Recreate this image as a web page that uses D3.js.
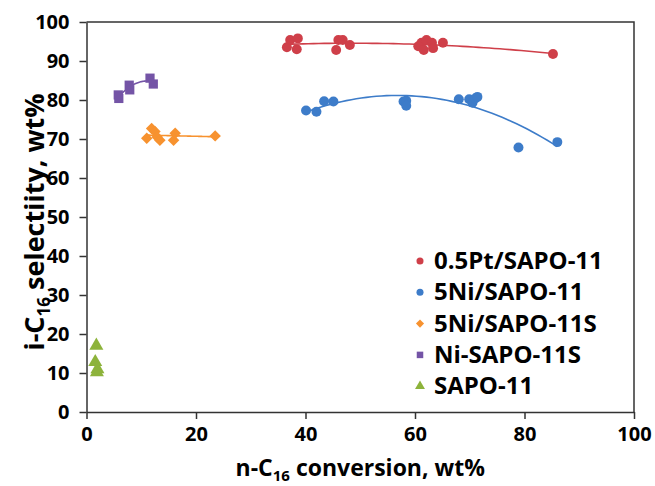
<!DOCTYPE html>
<html><head><meta charset="utf-8">
<script src="https://cdn.jsdelivr.net/npm/d3@7"></script>
<style>
body{margin:0;background:#fff;}
text{font-family:"Open Sans",sans-serif;font-weight:bold;fill:#000;}
</style></head>
<body><svg id="c" width="655" height="486"></svg>
<script>
const seriesNames = ["0.5Pt/SAPO-11","5Ni/SAPO-11","5Ni/SAPO-11S","Ni-SAPO-11S","SAPO-11"];
const colors = ["#CF3F49","#3D7CC9","#F7922F","#7454A6","#8DB33B"];
const symbols = ["circle","circle","diamond","square","triangle"];
const fitOrder = [2,2,1,2,0];

const ptX = [36.6,37.2,38.6,38.4,45.6,46.0,46.8,48.1,61.2,60.6,61.6,62.1,63.1,63.3,65.1,85.2];
const ptY = [93.5,95.4,95.8,93.0,92.8,95.4,95.4,94.1,94.7,93.8,92.8,95.4,94.7,93.3,94.7,91.8];
const niX = [40.1,42.0,43.4,45.1,57.9,58.4,58.4,68.0,69.9,70.5,71.0,71.4,78.9,86.0];
const niY = [77.3,77.0,79.7,79.6,79.6,79.8,78.5,80.2,80.2,79.3,80.4,80.8,67.8,69.2];
const niSX = [11.0,11.9,12.5,12.9,13.4,15.9,16.2,23.5];
const niSY = [70.2,72.7,71.9,70.5,69.7,69.7,71.5,70.8];
const nsX = [5.9,5.8,7.8,7.9,11.6,12.2];
const nsY = [80.4,81.3,83.8,82.6,85.6,84.1];
const sapoX = [1.8,1.6,2.0,1.9];
const sapoY = [17.0,12.8,11.0,10.2];

const xTicks = [0,20,40,60,80,100];
const yTicks = [0,10,20,30,40,50,60,70,80,90,100];

const allX = [ptX,niX,niSX,nsX,sapoX];
const allY = [ptY,niY,niSY,nsY,sapoY];

const svg = d3.select("#c");
const L=86.5, R=634, T=22, B=412;
const x = d3.scaleLinear().domain([0,100]).range([L,R]);
const y = d3.scaleLinear().domain([0,100]).range([B,T]);
const axisColor="#333";

svg.append("path").attr("d",`M${L},${T}H${R}V${B}`).attr("fill","none").attr("stroke",axisColor).attr("stroke-width",1.5);

const gx = svg.append("g").attr("transform",`translate(0,${B})`)
  .call(d3.axisBottom(x).tickValues(xTicks).tickSize(7).tickPadding(8).tickSizeOuter(0));
const gy = svg.append("g").attr("transform",`translate(${L},0)`)
  .call(d3.axisLeft(y).tickValues(yTicks).tickSize(7).tickPadding(10).tickSizeOuter(0));
[gx,gy].forEach(g=>{
  g.select(".domain").attr("stroke",axisColor).attr("stroke-width",1.5);
  g.selectAll(".tick line").attr("stroke",axisColor).attr("stroke-width",1.5);
  g.selectAll(".tick text").style("font-size","20px").style("font-family","'Open Sans',sans-serif").style("font-weight","bold").attr("fill","#111");
});

function polyfit(xs, ys, n){
  const m=n+1, A=[...Array(m)].map(()=>Array(m+1).fill(0));
  for(let k=0;k<xs.length;k++){
    for(let i=0;i<m;i++){
      for(let j=0;j<m;j++) A[i][j]+=Math.pow(xs[k],i+j);
      A[i][m]+=ys[k]*Math.pow(xs[k],i);
    }
  }
  for(let i=0;i<m;i++){
    let p=i; for(let r=i+1;r<m;r++) if(Math.abs(A[r][i])>Math.abs(A[p][i])) p=r;
    [A[i],A[p]]=[A[p],A[i]];
    for(let r=0;r<m;r++){ if(r===i) continue; const f=A[r][i]/A[i][i]; for(let c=i;c<=m;c++) A[r][c]-=f*A[i][c]; }
  }
  return A.map((row,i)=>row[m]/row[i]);
}

const line = d3.line().x(d=>x(d[0])).y(d=>y(d[1]));
allX.forEach((xs,si)=>{
  if(!fitOrder[si]) return;
  const coef = polyfit(xs, allY[si], fitOrder[si]);
  const [lo,hi] = d3.extent(xs);
  const pts = d3.range(0,51).map(i=>{const xv=lo+(hi-lo)*i/50; return [xv, coef.reduce((s,c,k)=>s+c*Math.pow(xv,k),0)];});
  svg.append("path").attr("d",line(pts)).attr("fill","none").attr("stroke",colors[si]).attr("stroke-width",1.6);
});

const symMap = {circle:d3.symbolCircle, diamond:d3.symbolSquare, square:d3.symbolSquare, triangle:d3.symbolTriangle};
const symSize = {circle:78, diamond:66, square:85, triangle:85};
const symRot = {circle:0, diamond:45, square:0, triangle:0};
allX.forEach((xs,si)=>{
  const k = symbols[si];
  const s = d3.symbol().type(symMap[k]).size(symSize[k]);
  svg.append("g").selectAll("path").data(xs.map((xv,i)=>[xv,allY[si][i]])).join("path")
    .attr("d",s).attr("transform",d=>`translate(${x(d[0])},${y(d[1])}) rotate(${symRot[k]})`)
    .attr("fill",colors[si]);
});

const xt = svg.append("text").attr("x",(L+R)/2).attr("y",476).attr("text-anchor","middle").style("font-size","23px");
xt.append("tspan").text("n-C");
xt.append("tspan").text("16").attr("dy",5).style("font-size","15px");
xt.append("tspan").text(" conversion, wt%").attr("dy",-5);

const yt = svg.append("text").attr("transform",`translate(44,222) rotate(-90)`).attr("text-anchor","middle").style("font-size","27px");
yt.append("tspan").text("i-C");
yt.append("tspan").text("16").attr("dy",6).style("font-size","17px");
yt.append("tspan").text(" selectiity, wt%").attr("dy",-6);

const lg = svg.append("g");
seriesNames.forEach((n,i)=>{
  const yy = 261 + i*31.3;
  const k = symbols[i];
  const s = d3.symbol().type(symMap[k]).size(symSize[k]*0.5);
  lg.append("path").attr("d",s).attr("transform",`translate(420,${yy}) rotate(${symRot[k]})`).attr("fill",colors[i]);
  lg.append("text").attr("x",434).attr("y",yy+8).text(n).style("font-size","24px");
});
</script></body></html>
